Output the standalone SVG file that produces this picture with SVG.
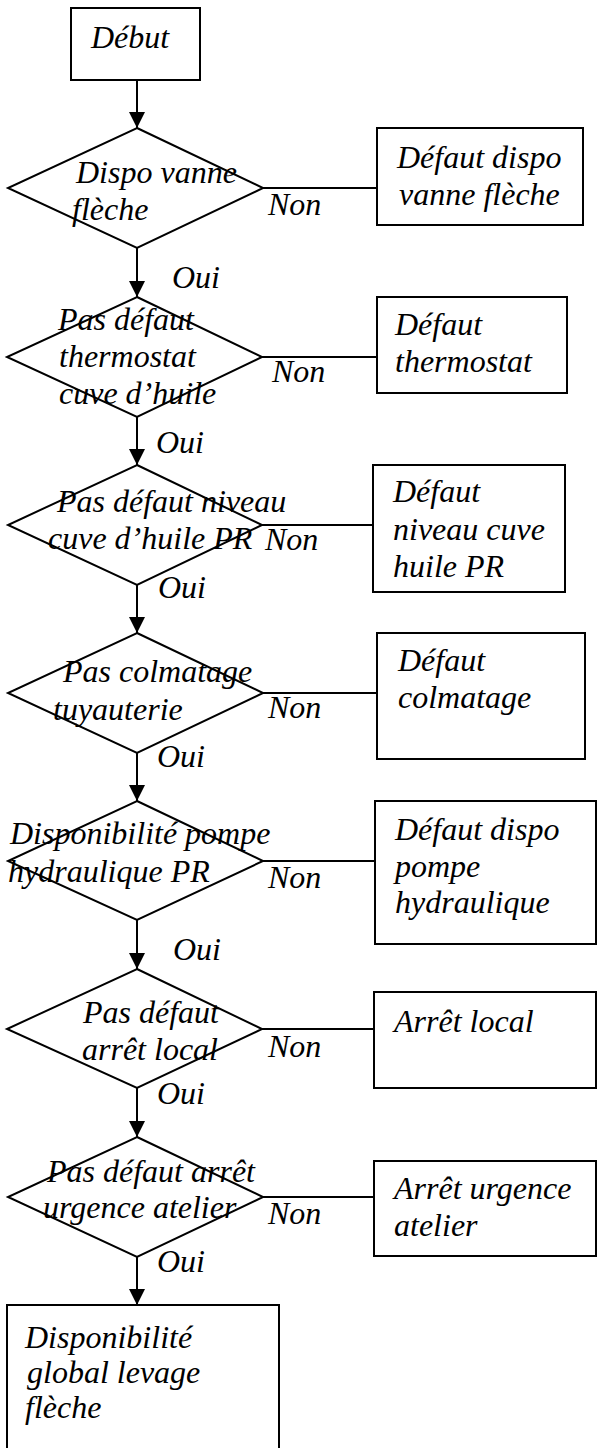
<svg xmlns="http://www.w3.org/2000/svg" width="597" height="1448" viewBox="0 0 597 1448">
  <style>
    .shape { fill: #ffffff; stroke: #000000; stroke-width: 2; }
    .link { fill: none; stroke: #000000; stroke-width: 2; }
    text { font-family: "Liberation Serif", "Times New Roman", serif; font-style: italic; font-size: 32px; fill: #000000; }
  </style>
  <defs>
    <marker id="arrow" markerUnits="userSpaceOnUse" markerWidth="16" markerHeight="16" refX="16" refY="8" orient="auto">
      <path d="M0,0 L16,8 L0,16 Z" fill="#000000"/>
    </marker>
  </defs>
  <rect width="597" height="1448" fill="#ffffff"/>

  <!-- connectors -->
  <g id="connectors">
    <line class="link" x1="137" y1="80" x2="137" y2="128" marker-end="url(#arrow)"/>
    <line class="link" x1="137" y1="248" x2="137" y2="297" marker-end="url(#arrow)"/>
    <line class="link" x1="137" y1="417" x2="137" y2="465" marker-end="url(#arrow)"/>
    <line class="link" x1="137" y1="585" x2="137" y2="633" marker-end="url(#arrow)"/>
    <line class="link" x1="137" y1="753" x2="137" y2="801" marker-end="url(#arrow)"/>
    <line class="link" x1="137" y1="920" x2="137" y2="969" marker-end="url(#arrow)"/>
    <line class="link" x1="137" y1="1088" x2="137" y2="1137" marker-end="url(#arrow)"/>
    <line class="link" x1="137" y1="1257" x2="137" y2="1305" marker-end="url(#arrow)"/>

    <line class="link" x1="263" y1="188" x2="377" y2="188"/>
    <line class="link" x1="262" y1="357" x2="377" y2="357"/>
    <line class="link" x1="262" y1="525" x2="373" y2="525"/>
    <line class="link" x1="263" y1="693" x2="377" y2="693"/>
    <line class="link" x1="263" y1="861" x2="375" y2="861"/>
    <line class="link" x1="262" y1="1029" x2="374" y2="1029"/>
    <line class="link" x1="263" y1="1197" x2="374" y2="1197"/>

    <text x="172" y="288">Oui</text>
    <text x="156" y="453">Oui</text>
    <text x="158" y="598">Oui</text>
    <text x="157" y="767">Oui</text>
    <text x="173" y="960">Oui</text>
    <text x="157" y="1104">Oui</text>
    <text x="157" y="1272">Oui</text>

    <text x="268" y="215">Non</text>
    <text x="272" y="382">Non</text>
    <text x="265" y="550">Non</text>
    <text x="268" y="718">Non</text>
    <text x="268" y="888">Non</text>
    <text x="268" y="1057">Non</text>
    <text x="268" y="1224">Non</text>
  </g>

  <!-- start -->
  <g id="debut">
    <rect class="shape" x="71" y="8" width="129" height="72"/>
    <text x="91" y="48">Début</text>
  </g>

  <!-- decisions -->
  <g id="dispo-vanne">
    <polygon class="shape" points="137,128 263,188 137,248 8,188"/>
    <text x="76" y="183">Dispo vanne</text>
    <text x="72" y="220">flèche</text>
  </g>
  <g id="thermostat">
    <polygon class="shape" points="137,297 262,357 137,417 7,357"/>
    <text x="58" y="330">Pas défaut</text>
    <text x="59" y="367">thermostat</text>
    <text x="59" y="404">cuve d’huile</text>
  </g>
  <g id="niveau-huile">
    <polygon class="shape" points="137,465 262,525 137,585 8,525"/>
    <text x="57" y="512">Pas défaut niveau</text>
    <text x="48" y="549">cuve d’huile PR</text>
  </g>
  <g id="colmatage">
    <polygon class="shape" points="137,633 263,693 137,753 8,693"/>
    <text x="63" y="682">Pas colmatage</text>
    <text x="53" y="720">tuyauterie</text>
  </g>
  <g id="pompe">
    <polygon class="shape" points="137,801 263,861 137,920 8,861"/>
    <text x="10" y="844">Disponibilité pompe</text>
    <text x="8" y="882">hydraulique PR</text>
  </g>
  <g id="arret-local">
    <polygon class="shape" points="137,969 262,1029 137,1088 7,1029"/>
    <text x="83" y="1023">Pas défaut</text>
    <text x="82" y="1060">arrêt local</text>
  </g>
  <g id="arret-urgence">
    <polygon class="shape" points="137,1137 263,1197 137,1257 8,1197"/>
    <text x="47" y="1182">Pas défaut arrêt</text>
    <text x="43" y="1218">urgence atelier</text>
  </g>

  <!-- fault boxes -->
  <g id="defaut-vanne">
    <rect class="shape" x="377" y="128" width="206" height="97"/>
    <text x="397" y="168">Défaut dispo</text>
    <text x="399" y="205">vanne flèche</text>
  </g>
  <g id="defaut-thermostat">
    <rect class="shape" x="377" y="297" width="190" height="96"/>
    <text x="395" y="335">Défaut</text>
    <text x="395" y="372">thermostat</text>
  </g>
  <g id="defaut-niveau">
    <rect class="shape" x="373" y="465" width="192" height="127"/>
    <text x="393" y="502">Défaut</text>
    <text x="393" y="540">niveau cuve</text>
    <text x="393" y="577">huile PR</text>
  </g>
  <g id="defaut-colmatage">
    <rect class="shape" x="377" y="633" width="208" height="126"/>
    <text x="398" y="671">Défaut</text>
    <text x="398" y="708">colmatage</text>
  </g>
  <g id="defaut-pompe">
    <rect class="shape" x="375" y="801" width="221" height="143"/>
    <text x="395" y="840">Défaut dispo</text>
    <text x="395" y="877">pompe</text>
    <text x="395" y="913">hydraulique</text>
  </g>
  <g id="arret-local-box">
    <rect class="shape" x="374" y="992" width="222" height="96"/>
    <text x="394" y="1032">Arrêt local</text>
  </g>
  <g id="arret-urgence-box">
    <rect class="shape" x="374" y="1161" width="222" height="95"/>
    <text x="394" y="1199">Arrêt urgence</text>
    <text x="394" y="1236">atelier</text>
  </g>

  <!-- end -->
  <g id="disponibilite-globale">
    <rect class="shape" x="7" y="1305" width="272" height="150"/>
    <text x="25" y="1348">Disponibilité</text>
    <text x="27" y="1383">global levage</text>
    <text x="25" y="1418">flèche</text>
  </g>
</svg>
